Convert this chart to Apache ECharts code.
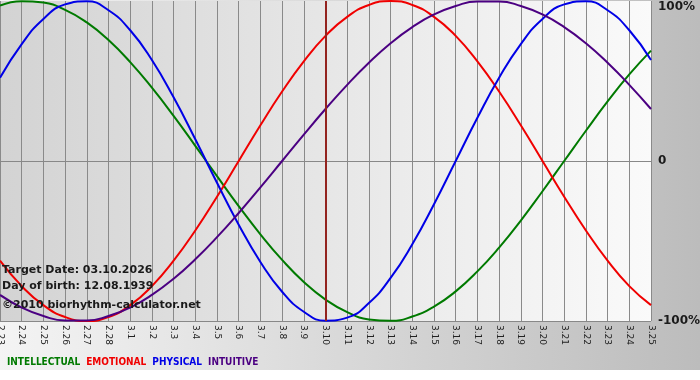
<!DOCTYPE html>
<html>
<head>
<meta charset="utf-8">
<script src="https://cdn.jsdelivr.net/npm/echarts@6/dist/echarts.min.js"></script>
<style>
html, body { margin: 0; padding: 0; background: #fff; }
#chart { width: 700px; height: 380px; }
</style>
</head>
<body>
<div id="chart"></div>
<script>
var days = ['2.23','2.24','2.25','2.26','2.27','2.28','3.1','3.2','3.3','3.4','3.5','3.6','3.7','3.8','3.9','3.10',
    '3.11','3.12','3.13','3.14','3.15','3.16','3.17','3.18','3.19','3.20','3.21','3.22','3.23','3.24','3.25'];

var intellectual = [97.2, 99.9, 99.0, 94.5, 86.6, 75.6, 61.8, 45.8, 28.2, 9.5, -9.5, -28.2, -45.8, -61.8, -75.6, -86.6,
    -94.5, -99.0, -99.9, -97.2, -91.0, -81.5, -69.0, -54.1, -37.2, -18.9, 0, 18.9, 37.2, 54.1, 69.0];
var emotional = [-62.3, -78.2, -90.1, -97.5, -100, -97.5, -90.1, -78.2, -62.3, -43.4, -22.3, 0, 22.3, 43.4, 62.3, 78.2,
    90.1, 97.5, 100, 97.5, 90.1, 78.2, 62.3, 43.4, 22.3, 0, -22.3, -43.4, -62.3, -78.2, -90.1];
var physical = [52.0, 73.1, 88.8, 97.9, 99.8, 94.2, 81.7, 63.1, 39.8, 13.6, -13.6, -39.8, -63.1, -81.7, -94.2, -99.8,
    -97.9, -88.8, -73.1, -52.0, -27.0, 0, 27.0, 52.0, 73.1, 88.8, 97.9, 99.8, 94.2, 81.7, 63.1];
var intuitive = [-83.7, -91.6, -96.9, -99.7, -99.7, -96.9, -91.6, -83.7, -73.6, -61.4, -47.6, -32.5, -16.5, 0, 16.5, 32.5,
    47.6, 61.4, 73.6, 83.7, 91.6, 96.9, 99.7, 99.7, 96.9, 91.6, 83.7, 73.6, 61.4, 47.6, 32.5];

var targetDay = '3.10';
var infoLines = ['Target Date: 03.10.2026', 'Day of birth: 12.08.1939', '\u00a92010 biorhythm-calculator.net'];

var colors = {
    INTELLECTUAL: '#007a00',
    EMOTIONAL: '#f00000',
    PHYSICAL: '#0000e6',
    INTUITIVE: '#4b0082'
};

function makeSeries(name, data) {
    return {
        name: name,
        type: 'line',
        data: data,
        smooth: true,
        symbol: 'none',
        lineStyle: { color: colors[name], width: 2 },
        itemStyle: { color: colors[name] }
    };
}

var chart = echarts.init(document.getElementById('chart'));

var series = [
    makeSeries('INTELLECTUAL', intellectual),
    makeSeries('EMOTIONAL', emotional),
    makeSeries('PHYSICAL', physical),
    makeSeries('INTUITIVE', intuitive)
];
series[0].markLine = {
    silent: true,
    symbol: 'none',
    label: { show: false },
    lineStyle: { color: '#93231f', width: 2, type: 'solid' },
    data: [{ xAxis: targetDay }]
};

var option = {
    animation: false,
    backgroundColor: '#ffffff',
    textStyle: { fontFamily: 'DejaVu Sans' },
    graphic: [
        {
            type: 'rect',
            z: -10,
            shape: { x: 0, y: 0, width: 700, height: 370 },
            style: {
                fill: new echarts.graphic.LinearGradient(0, 0, 1, 0, [
                    { offset: 0, color: '#f4f4f4' },
                    { offset: 1, color: '#bcbcbc' }
                ])
            }
        },
        { type: 'text', left: 2, top: 265, z: 10,
          style: { text: infoLines[0], font: 'bold 11px "DejaVu Sans"', fill: '#1a1a1a' } },
        { type: 'text', left: 2, top: 281, z: 10,
          style: { text: infoLines[1], font: 'bold 11px "DejaVu Sans"', fill: '#1a1a1a' } },
        { type: 'text', left: 2, top: 300, z: 10,
          style: { text: infoLines[2], font: 'bold 11px "DejaVu Sans"', fill: '#1a1a1a' } }
    ],
    legend: {
        left: 2,
        top: 357,
        padding: 0,
        itemWidth: 0,
        itemHeight: 0,
        itemGap: 1,
        icon: 'rect',
        selectedMode: false,
        textStyle: { fontFamily: '"DejaVu Sans Condensed", sans-serif', fontWeight: 'bold', fontSize: 10 },
        data: Object.keys(colors).map(function (n) {
            return { name: n, textStyle: { color: colors[n] } };
        })
    },
    grid: {
        left: 0,
        right: 49,
        top: 1,
        bottom: 59,
        containLabel: false,
        outerBoundsMode: 'none',
        show: true,
        borderWidth: 0,
        backgroundColor: new echarts.graphic.LinearGradient(0, 0, 1, 0, [
            { offset: 0, color: '#d3d3d3' },
            { offset: 1, color: '#fafafa' }
        ])
    },
    xAxis: {
        type: 'category',
        data: days,
        boundaryGap: false,
        axisLine: { lineStyle: { color: '#888' } },
        axisTick: { show: true, length: 4, interval: 0, lineStyle: { color: '#888' } },
        splitLine: { show: true, interval: 0, lineStyle: { color: '#8a8a8a', width: 1 } },
        axisLabel: {
            interval: 0,
            rotate: -90,
            margin: 4,
            fontSize: 9,
            color: '#222',
            fontFamily: 'DejaVu Sans'
        }
    },
    yAxis: {
        type: 'value',
        position: 'right',
        min: -100,
        max: 100,
        interval: 100,
        axisLine: { show: false },
        axisTick: { show: false },
        splitLine: { show: true, lineStyle: { color: ['#888', '#888', 'rgba(0,0,0,0)'], width: 1 } },
        axisLabel: {
            margin: 7,
            fontSize: 12,
            fontWeight: 'bold',
            color: '#1a1a1a',
            fontFamily: 'DejaVu Sans',
            formatter: function (v) {
                if (v === 100) return '{top|100%}';
                return v === 0 ? '0' : v + '%';
            },
            rich: {
                top: { fontSize: 12, fontWeight: 'bold', color: '#1a1a1a', fontFamily: 'DejaVu Sans', padding: [12, 0, 0, 0] }
            }
        }
    },
    series: series
};

chart.setOption(option);
</script>
</body>
</html>
